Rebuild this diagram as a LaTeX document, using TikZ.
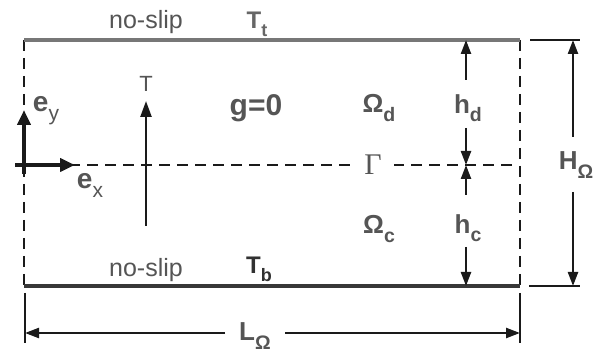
\documentclass[tikz,border=0pt]{standalone}
\usepackage{fontspec}
\usepackage{graphicx}
\setmainfont{Liberation Sans}
\newfontfamily\gammafont{Liberation Serif}
\usetikzlibrary{arrows.meta,calc}
\definecolor{ink}{HTML}{1A1A1A}
\definecolor{lab}{HTML}{555555}
\definecolor{topwallc}{HTML}{777777}
\definecolor{botwallc}{HTML}{383838}
\newcommand\fs[1]{\fontsize{#1}{#1}\selectfont}
\newcommand\lsub[1]{\raisebox{-0.32em}{\scalebox{0.75}{#1}}}
\begin{document}
\begin{tikzpicture}[x=1pt,y=-1pt,
  txt/.style={inner sep=0pt,text=lab},
  dashln/.style={draw=ink,line width=2.2pt,dash pattern=on 11pt off 7pt},
  topwall/.style={draw=topwallc,line width=4.2pt},
  botwall/.style={draw=botwallc,line width=4.5pt},
  dim/.style={draw=ink,line width=2.3pt,-{Triangle[length=14pt,width=10pt]}},
  ext/.style={draw=ink,line width=2.3pt},
  basis/.style={draw=ink,line width=4.5pt,-{Triangle[length=15pt,width=13pt]}},
  tgrad/.style={draw=ink,line width=2.4pt,-{Triangle[length=16pt,width=11pt]}}]
\useasboundingbox (0,0) rectangle (597,355);
% corners
\coordinate (TL) at (24,40);
\coordinate (TR) at (520,40);
\coordinate (BL) at (24,286);
\coordinate (BR) at (520,286);
\coordinate (ML) at (15,165);
\coordinate (MR) at (519,165);
% walls and dashed boundaries
\draw[dashln] (TL) -- (BL);
\draw[dashln] (TR) -- (BR);
\draw[dashln] (ML) -- (MR);
\draw[topwall] (TL) -- (TR);
\draw[botwall] (BL) -- (BR);
% labels on walls
\node[txt,font=\fs{25}] (nsT) at (146,22) {no-slip};
\node[txt,font=\fs{24}\bfseries,text=lab!90] (Tt) at (257,24) {T\lsub{t}};
\node[txt,font=\fs{25}] (nsB) at (146,270) {no-slip};
\node[txt,font=\fs{24}\bfseries,text=ink!90] (Tb) at (259,269) {T\lsub{b}};
% basis vectors
\coordinate (O) at (15,165);
\coordinate (Oy) at (24,174);
\coordinate (ex) at (75,165);
\coordinate (ey) at (24,110);
\draw[basis] (O) -- (ex);
\draw[basis] (Oy) -- (ey);
\node[txt,font=\fs{28}] (eyl) at (46,111) {\textbf{e}\lsub{y}};
\node[txt,font=\fs{28}] (exl) at (90,185) {\textbf{e}\lsub{x}};
% temperature arrow
\coordinate (Tlow) at (146,226);
\coordinate (Thigh) at (146,101);
\draw[tgrad] (Tlow) -- (Thigh);
\node[txt,font=\fs{22}] (Tl) at (146,84) {T};
% g = 0
\node[txt,font=\fs{30}\bfseries,text=lab] (g) at (256,108) {g=0};
% domains
\node[txt,font=\fs{26}\bfseries] (Od) at (379,108) {Ω\lsub{d}};
\node[txt,font=\fs{30}\gammafont,fill=white,minimum width=42pt,minimum height=22pt] (G) at (373,165) {Γ};
\node[txt,font=\fs{26}\bfseries] (Oc) at (379,229) {Ω\lsub{c}};
% h_d
\coordinate (hdT) at (466,40);
\coordinate (hdB) at (466,165);
\node[txt,font=\fs{26}\bfseries] (hd) at (468,108) {h\lsub{d}};
\draw[dim] ($(hd)+(-2,-28)$) -- (hdT);
\draw[dim] ($(hd)+(-2,20)$) -- (hdB);
% h_c
\coordinate (hcT) at (466,165);
\coordinate (hcB) at (466,286);
\node[txt,font=\fs{26}\bfseries] (hc) at (468,228) {h\lsub{c}};
\draw[dim] ($(hc)+(-2,-33)$) -- (hcT);
\draw[dim] ($(hc)+(-2,19)$) -- (hcB);
% H_Omega
\coordinate (HeT1) at (530,40);
\coordinate (HeT2) at (580,40);
\coordinate (HeB1) at (529,286);
\coordinate (HeB2) at (580,286);
\draw[ext] (HeT1) -- (HeT2);
\draw[ext] (HeB1) -- (HeB2);
\coordinate (HT) at (573,40);
\coordinate (HB) at (573,286);
\node[txt,font=\fs{26}\bfseries] (Hl) at (576,165) {H\lsub{Ω}};
\draw[dim] ($(Hl)+(-3,-28)$) -- (HT);
\draw[dim] ($(Hl)+(-3,27)$) -- (HB);
% L_Omega
\coordinate (LeL1) at (25,293);
\coordinate (LeL2) at (25,343);
\coordinate (LeR1) at (520,293);
\coordinate (LeR2) at (520,343);
\draw[ext] (LeL1) -- (LeL2);
\draw[ext] (LeR1) -- (LeR2);
\coordinate (LL) at (25,333);
\coordinate (LR) at (520,333);
\node[txt,font=\fs{26}\bfseries] (Ll) at (255,336) {L\lsub{Ω}};
\draw[dim] ($(Ll)+(-30,-3)$) -- (LL);
\draw[dim] ($(Ll)+(30,-3)$) -- (LR);
\end{tikzpicture}
\end{document}
